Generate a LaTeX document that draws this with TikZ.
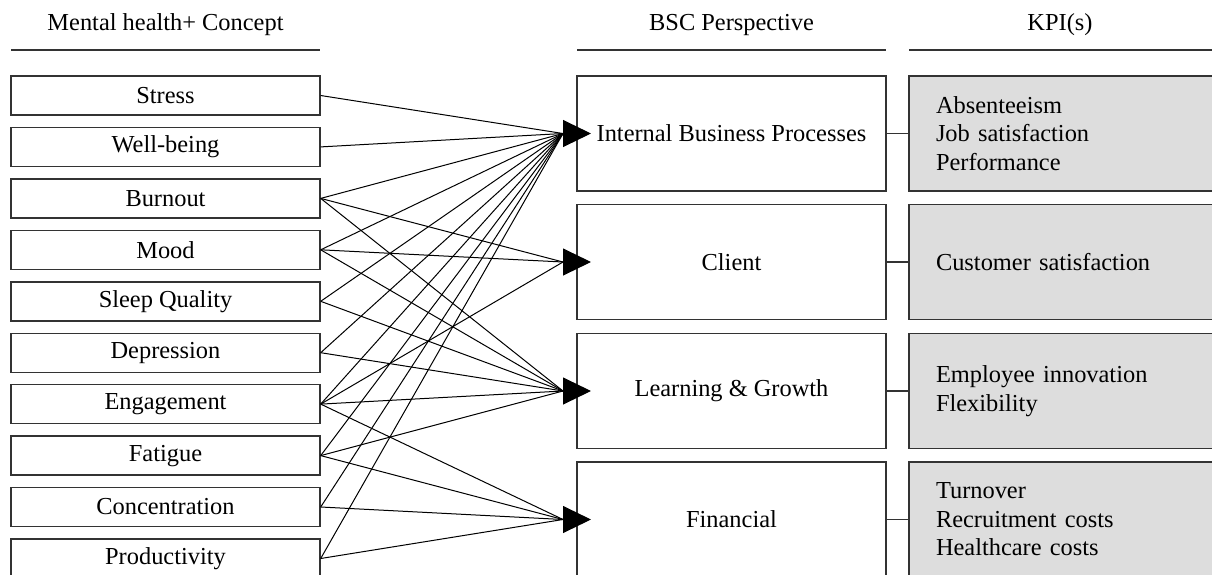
\documentclass[tikz,border=0pt]{standalone}
\usepackage{fontspec}
\setmainfont{Liberation Serif}
\usepackage{xcolor}
\usetikzlibrary{
    arrows.meta,
    calc,
    positioning
}
\definecolor{kpigray}{HTML}{DDDDDD}
\definecolor{boxline}{HTML}{333333}
\tikzset{
    concept/.style={draw=boxline, line width=0.7pt, minimum width=154.5pt, minimum height=19.5pt, inner sep=0pt},
    perspective/.style={draw=boxline, line width=0.7pt, minimum width=154.5pt, minimum height=57.5pt, inner sep=0pt},
    kpi/.style={draw=boxline, line width=0.7pt, fill=kpigray, minimum width=153pt, minimum height=57.5pt, text width=126pt, inner xsep=13.5pt, inner ysep=0pt, align=left},
    heading/.style={inner sep=0pt},
    rule/.style={draw=boxline, line width=0.7pt},
    link/.style={line width=0.5pt},
    bigarrow/.style={-{Triangle[length=14pt,width=13.5pt]}, line width=0.5pt}
}

\begin{document}
\begin{tikzpicture}[x=0.5pt, y=-0.5pt, font=\fontsize{12.2}{14.3}\selectfont]
                        \useasboundingbox (0,0) rectangle (1212,574);
                        \clip (0,0) rectangle (1212,574);

                        % column headings
                        \node[heading] (hconcept) at (165.5, 25) {Mental health+ Concept};
                        \node[heading] (hbsc) at (731.5, 25) {BSC Perspective};
                        \node[heading] (hkpi) at (1060, 25) {KPI(s)};
                        \draw[rule] (11, 50) -- (320, 50);
                        \draw[rule] (577, 50) -- (886, 50);
                        \draw[rule] (909, 50) -- (1214, 50);

                        % mental health concepts
                        \node[concept] (stress) at (165.5, 95.5) {Stress};
                        \node[concept] (wellbeing) at (165.5, 146.9) {Well-being};
                        \node[concept] (burnout) at (165.5, 198.4) {Burnout};
                        \node[concept] (mood) at (165.5, 249.8) {Mood};
                        \node[concept] (sleep) at (165.5, 301.3) {Sleep Quality};
                        \node[concept] (depression) at (165.5, 352.7) {Depression};
                        \node[concept] (engagement) at (165.5, 404.1) {Engagement};
                        \node[concept] (fatigue) at (165.5, 455.6) {Fatigue};
                        \node[concept] (concentration) at (165.5, 507.0) {Concentration};
                        \node[concept] (productivity) at (165.5, 558.5) {Productivity};

                        % BSC perspectives
                        \node[perspective] (ibp) at (731.5, 133.5) {Internal Business Processes};
                        \node[perspective] (client) at (731.5, 262) {Client};
                        \node[perspective] (learning) at (731.5, 391) {Learning \& Growth};
                        \node[perspective] (financial) at (731.5, 519.5) {Financial};

                        % KPIs
                        \node[kpi] (ibpkpi) at (1062, 133.5) {Absenteeism\\Job satisfaction\\Performance};
                        \node[kpi] (clientkpi) at (1062, 262) {Customer satisfaction};
                        \node[kpi] (learningkpi) at (1062, 391) {Employee innovation\\Flexibility};
                        \node[kpi] (financialkpi) at (1062, 519.5) {Turnover\\Recruitment costs\\Healthcare costs};

                        \coordinate (ibpin) at (563, 133.5);
                        \coordinate (ibptip) at (591, 133.5);
                        \coordinate (clientin) at (563, 262);
                        \coordinate (clienttip) at (591, 262);
                        \coordinate (learningin) at (563, 391);
                        \coordinate (learningtip) at (591, 391);
                        \coordinate (financialin) at (563, 519.5);
                        \coordinate (financialtip) at (591, 519.5);

                        \draw[link]
                        (stress.east) edge (ibpin)
                        (wellbeing.east) edge (ibpin)
                        (burnout.east) edge (ibpin)
                        (burnout.east) edge (clientin)
                        (burnout.east) edge (learningin)
                        (mood.east) edge (ibpin)
                        (mood.east) edge (clientin)
                        (mood.east) edge (learningin)
                        (sleep.east) edge (ibpin)
                        (sleep.east) edge (learningin)
                        (depression.east) edge (ibpin)
                        (depression.east) edge (learningin)
                        (engagement.east) edge (ibpin)
                        (engagement.east) edge (clientin)
                        (engagement.east) edge (learningin)
                        (engagement.east) edge (financialin)
                        (fatigue.east) edge (ibpin)
                        (fatigue.east) edge (learningin)
                        (fatigue.east) edge (financialin)
                        (concentration.east) edge (ibpin)
                        (concentration.east) edge (financialin)
                        (productivity.east) edge (ibpin)
                        (productivity.east) edge (financialin);

                        \draw[bigarrow] (ibpin) -- (ibptip);
                        \draw[bigarrow] (clientin) -- (clienttip);
                        \draw[bigarrow] (learningin) -- (learningtip);
                        \draw[bigarrow] (financialin) -- (financialtip);

                        \draw[rule]
                        (ibp) edge (ibpkpi)
                        (client) edge (clientkpi)
                        (learning) edge (learningkpi)
                        (financial) edge (financialkpi);
                    \end{tikzpicture}
\end{document}
